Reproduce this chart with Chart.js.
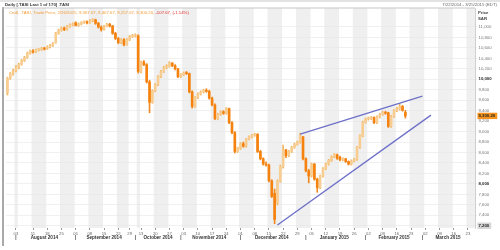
<!DOCTYPE html>
<html>
<head>
<meta charset="utf-8">
<script src="https://cdn.jsdelivr.net/npm/chart.js@4.4.1/dist/chart.umd.min.js"></script>
<style>
html, body { margin: 0; padding: 0; background: #fff; }
</style>
</head>
<body>
<canvas id="chart" width="500" height="250"></canvas>
<script>
// trading days of the exchange (Sun-Thu, Eid / national day closures left out)
var jul14 = [22, 23, 24];
var aug14 = [3, 4, 5, 6, 7, 10, 11, 12, 13, 14, 17, 18, 19, 20, 21, 24, 25, 26, 27, 28, 31];
var sep14 = [1, 2, 3, 4, 7, 8, 9, 10, 11, 14, 15, 16, 17, 18, 21, 22, 24, 25, 28, 29, 30];
var oct14 = [1, 12, 13, 14, 15, 16, 19, 20, 21, 22, 23, 26, 27, 28, 29, 30];
var nov14 = [2, 3, 4, 5, 6, 9, 10, 11, 12, 13, 16, 17, 18, 19, 20, 23, 24, 25, 26, 27, 30];
var dec14 = [1, 2, 3, 4, 7, 8, 9, 10, 11, 14, 15, 16, 17, 18, 21, 22, 23, 24, 25, 28, 29, 30, 31];
var jan15 = [1, 4, 5, 6, 7, 8, 11, 12, 13, 14, 15, 18, 19, 20, 21, 22, 25, 26, 27, 28, 29];
var feb15 = [1, 2, 3, 4, 5, 8, 9, 10, 11, 12, 15, 16, 17, 18, 19, 22, 23, 24, 25, 26];
var mar15 = [1, 2, 3, 4, 5, 8, 9, 10, 11, 12, 15, 16, 17, 18, 19, 22, 23, 24, 25];

// daily candles of .TASI
var open = [
  9740, 10020, 10110, 10160, 10230, 10290, 10360, 10420, 10500, 10540,
  10520, 10560, 10570, 10590, 10580, 10620, 10650, 10700, 10880, 10940,
  10980, 10950, 11010, 11040, 11080, 11030, 11060, 11090, 11100, 11080,
  11120, 11140, 11070, 11000, 10950, 11010, 11050, 11020, 10880, 10780,
  10700, 10760, 10660, 10760, 10820, 10830, 10830, 10150, 10330, 10280,
  9950, 9560, 9780, 9900, 10050, 10150, 10230, 10250, 10310, 10260,
  10200, 10050, 10090, 10120, 10110, 9760, 9480, 9650, 9720, 9760,
  9790, 9770, 9640, 9510, 9250, 9330, 9380, 9350, 9440, 9170,
  8980, 8620, 8680, 8770, 8720, 8860, 8900, 8930, 8950, 8620,
  8480, 8380, 8360, 8060, 7820, 7640, 8050, 8330, 8650, 8540,
  8620, 8700, 8760, 8800, 8900, 8480, 8250, 8150, 8380, 8090,
  7930, 8150, 8290, 8380, 8450, 8520, 8560, 8510, 8460, 8480,
  8430, 8380, 8440, 8470, 8700, 8920, 9180, 9240, 9250, 9270,
  9170, 9280, 9330, 9370, 9360, 9100, 9290, 9400, 9430, 9480,
  9367.67
];
var high = [
  10040, 10130, 10190, 10260, 10310, 10380, 10440, 10520, 10560, 10570,
  10580, 10590, 10610, 10610, 10640, 10670, 10700, 10900, 10960, 11000,
  11000, 11030, 11060, 11080, 11100, 11080, 11100, 11120, 11120, 11140,
  11160, 11150, 11090, 11020, 11030, 11070, 11070, 11030, 10900, 10800,
  10780, 10780, 10780, 10840, 10860, 10870, 10850, 10350, 10360, 10300,
  9980, 9800, 9920, 10070, 10170, 10250, 10280, 10340, 10320, 10280,
  10210, 10110, 10140, 10150, 10120, 9780, 9670, 9740, 9780, 9810,
  9820, 9790, 9660, 9530, 9350, 9400, 9400, 9460, 9450, 9190,
  9000, 8700, 8790, 8800, 8870, 8920, 8950, 8970, 8960, 8640,
  8500, 8420, 8380, 8080, 7900, 8080, 8360, 8740, 8660, 8640,
  8720, 8780, 8820, 8970, 8910, 8500, 8280, 8400, 8390, 8110,
  8170, 8310, 8400, 8470, 8540, 8580, 8570, 8530, 8500, 8490,
  8440, 8460, 8490, 8720, 8940, 9200, 9260, 9280, 9290, 9280,
  9300, 9350, 9390, 9390, 9370, 9310, 9420, 9470, 9530, 9500,
  9407.67
];
var low = [
  9700, 10000, 10080, 10140, 10200, 10270, 10340, 10400, 10480, 10500,
  10510, 10540, 10550, 10560, 10570, 10600, 10630, 10690, 10860, 10920,
  10930, 10940, 10990, 11020, 11020, 11010, 11040, 11070, 11060, 11070,
  11100, 11050, 10980, 10920, 10940, 11000, 11000, 10860, 10760, 10680,
  10680, 10640, 10650, 10740, 10800, 10810, 10120, 10120, 10260, 9930,
  9360, 9540, 9760, 9880, 10030, 10130, 10200, 10230, 10240, 10180,
  10030, 10030, 10070, 10090, 9740, 9450, 9460, 9630, 9700, 9740,
  9750, 9620, 9490, 9230, 9230, 9310, 9330, 9330, 9150, 8960,
  8590, 8600, 8660, 8700, 8700, 8840, 8880, 8910, 8600, 8460,
  8360, 8340, 8040, 7740, 7240, 7600, 8030, 8300, 8500, 8520,
  8600, 8680, 8740, 8780, 8460, 8230, 8020, 8130, 8070, 7840,
  7910, 8130, 8270, 8360, 8430, 8500, 8470, 8440, 8440, 8410,
  8360, 8360, 8420, 8450, 8680, 8900, 9160, 9220, 9230, 9150,
  9150, 9260, 9310, 9330, 9080, 9080, 9270, 9380, 9410, 9390,
  9257.67
];
var close = [
  10020, 10110, 10160, 10230, 10290, 10360, 10420, 10500, 10540, 10520,
  10560, 10570, 10590, 10580, 10620, 10650, 10690, 10880, 10940, 10980,
  10950, 11010, 11040, 11060, 11030, 11060, 11090, 11100, 11080, 11120,
  11140, 11070, 11000, 10950, 11010, 11050, 11020, 10880, 10780, 10700,
  10760, 10660, 10760, 10820, 10830, 10850, 10150, 10330, 10280, 9950,
  9560, 9780, 9900, 10050, 10150, 10230, 10250, 10310, 10260, 10200,
  10050, 10090, 10120, 10110, 9760, 9480, 9650, 9720, 9760, 9790,
  9770, 9640, 9510, 9250, 9330, 9380, 9350, 9440, 9170, 8980,
  8620, 8680, 8770, 8720, 8860, 8900, 8930, 8950, 8620, 8480,
  8380, 8360, 8060, 7760, 7320, 8050, 8330, 8650, 8540, 8620,
  8700, 8760, 8800, 8920, 8480, 8250, 8150, 8380, 8090, 7930,
  8150, 8290, 8380, 8450, 8520, 8560, 8490, 8460, 8480, 8430,
  8380, 8440, 8470, 8700, 8920, 9180, 9240, 9250, 9270, 9170,
  9280, 9330, 9370, 9350, 9100, 9290, 9400, 9450, 9480, 9407.87,
  9300.20
];

// hand drawn trend lines (wedge)
var upperLine = [{ x: '2014-12-30', y: 8950 }, { x: '2015-03-01', y: 9680 }];
var lowerLine = [{ x: '2014-12-18', y: 7215 }, { x: '2015-03-04', y: 9315 }];

// axis labels
var dayTicks = ['2014-08-03', '2014-08-11', '2014-08-18', '2014-08-25', '2014-09-01', '2014-09-08',
  '2014-09-15', '2014-09-22', '2014-09-29', '2014-10-13', '2014-10-20', '2014-10-27', '2014-11-03',
  '2014-11-10', '2014-11-17', '2014-11-24', '2014-12-01', '2014-12-08', '2014-12-15', '2014-12-22',
  '2014-12-29', '2015-01-05', '2015-01-12', '2015-01-19', '2015-01-26', '2015-02-02', '2015-02-09',
  '2015-02-16', '2015-02-23', '2015-03-02', '2015-03-09', '2015-03-16', '2015-03-23'];
var monthNames = ['', 'August 2014', 'September 2014', 'October 2014', 'November 2014',
  'December 2014', 'January 2015', 'February 2015', 'March 2015'];
var priceTicks = [7200, 7400, 7600, 7800, 8000, 8200, 8400, 8600, 8800, 9000, 9200, 9400,
  9600, 9800, 10000, 10200, 10400, 10600, 10800, 11000];

var UP = '#f8cd91', DOWN = '#f5820f', WICK_UP = '#f3b45e', WICK_DOWN = '#f08a20';

// build the category axis
function pad(n) { return (n < 10 ? '0' : '') + n; }
var monthList = [['2014-07', jul14], ['2014-08', aug14], ['2014-09', sep14], ['2014-10', oct14],
  ['2014-11', nov14], ['2014-12', dec14], ['2015-01', jan15], ['2015-02', feb15], ['2015-03', mar15]];
var labels = [];
var monthStart = {}, monthMid = {};
monthList.forEach(function (m, k) {
  var first = labels.length;
  m[1].forEach(function (d) { labels.push(m[0] + '-' + pad(d)); });
  var last = labels.length - 1;
  if (k > 0) {
    monthStart[first] = '|';
    monthMid[Math.ceil((first + last) / 2)] = monthNames[k];
  }
});

var bodies = labels.map(function (l, i) { return i < close.length ? [open[i], close[i]] : null; });
var wicks = labels.map(function (l, i) { return i < close.length ? [low[i], high[i]] : null; });
var lastClose = close[close.length - 1];

function isDown(i) { return close[i] < open[i]; }
function tickVal(c) { return c && c.tick ? c.tick.value : null; }
function strong(v) { return v === lastClose || v === 10000 || v === 8000 || v === 7200; }

// alternate weeks shaded (Mon-Sun)
var refMonday = Date.UTC(2014, 7, 11);
function greyWeek(label) {
  var p = label.split('-');
  var t = Date.UTC(+p[0], +p[1] - 1, +p[2]);
  return Math.floor((t - refMonday) / 604800000) % 2 === 0;
}

var weekBands = {
  id: 'weekBands',
  beforeDraw: function (chart) {
    var ctx = chart.ctx, area = chart.chartArea, x = chart.scales.x;
    var w = (area.right - area.left) / labels.length;
    ctx.save();
    ctx.fillStyle = '#fff';
    ctx.fillRect(0, 0, chart.width, chart.height);
    ctx.fillStyle = '#efefef';
    labels.forEach(function (l, i) {
      if (greyWeek(l)) {
        var px = x.getPixelForValue(i);
        ctx.fillRect(px - w / 2, area.top, w + 0.4, area.bottom - area.top);
      }
    });
    ctx.restore();
  }
};

var frameText = {
  id: 'frameText',
  afterDraw: function (chart) {
    var ctx = chart.ctx, area = chart.chartArea;
    ctx.save();
    // frame
    ctx.fillStyle = '#a9a9a9';
    ctx.fillRect(2, 7, 2, 239);
    ctx.fillStyle = '#c8c8c8';
    ctx.fillRect(2, 7.5, area.right - 2, 1);
    ctx.fillRect(0, 0.5, 500, 1);
    ctx.textBaseline = 'middle';
    ctx.font = 'bold 4.3px "Liberation Sans", Arial, sans-serif';
    ctx.fillStyle = '#333';
    ctx.textAlign = 'left';
    ctx.fillText('Daily [.TASI Last 1 of 170] .TASI', 5, 4.5);
    ctx.font = '4.3px "Liberation Sans", Arial, sans-serif';
    ctx.fillStyle = '#666';
    ctx.textAlign = 'right';
    ctx.fillText('7/22/2014 - 3/25/2015 (EDT)', 497, 4.5);
    ctx.textAlign = 'left';
    ctx.font = 'bold 4.3px "Liberation Sans", Arial, sans-serif';
    ctx.fillStyle = '#444';
    ctx.fillText('Price', 478, 12.5);
    ctx.fillText('SAR', 478, 19);
    // info line
    ctx.font = '4.3px "Liberation Sans", Arial, sans-serif';
    var info = 'Cndl, .TASI, Trade Price, 2/26/2015, 9,367.67, 9,407.67, 9,257.67, 9,300.20, ';
    ctx.fillStyle = '#f39c34';
    ctx.fillText(info, 9, 13);
    ctx.fillStyle = '#e0302a';
    ctx.fillText('-107.67, (-1.14%)', 9 + ctx.measureText(info).width, 13);
    ctx.restore();
  }
};

var fam = '"Liberation Sans", Arial, sans-serif';
Chart.defaults.font.family = fam;

new Chart(document.getElementById('chart'), {
  type: 'bar',
  data: {
    labels: labels,
    datasets: [
      { type: 'line', data: upperLine, borderColor: '#6d70c8', borderWidth: 1.3, pointRadius: 0 },
      { type: 'line', data: lowerLine, borderColor: '#6d70c8', borderWidth: 1.3, pointRadius: 0 },
      {
        data: bodies, grouped: false, barThickness: 2, minBarLength: 1,
        backgroundColor: function (c) { return isDown(c.dataIndex) ? DOWN : UP; }
      },
      {
        data: wicks, grouped: false, barThickness: 1,
        backgroundColor: function (c) { return isDown(c.dataIndex) ? WICK_DOWN : WICK_UP; }
      }
    ]
  },
  options: {
    responsive: false,
    animation: false,
    devicePixelRatio: 1,
    layout: { padding: { left: 6, right: 0, top: 8, bottom: 4 } },
    plugins: { legend: { display: false }, tooltip: { enabled: false } },
    scales: {
      x: {
        offset: true,
        grid: {
          offset: false, drawOnChartArea: false, tickLength: 2,
          color: function (c) { return c.index !== undefined && dayTicks.indexOf(labels[c.index]) >= 0 ? '#9a9a9a' : 'rgba(0,0,0,0)'; }
        },
        border: { display: false },
        ticks: {
          autoSkip: false, maxRotation: 0, minRotation: 0, padding: 1,
          font: { size: 4.2 }, color: '#666',
          callback: function (v, i) { var l = labels[i]; return dayTicks.indexOf(l) >= 0 ? l.slice(8) : ''; }
        },
        afterFit: function (s) { s.height = 7; }
      },
      xm: {
        type: 'category', position: 'bottom', offset: true,
        grid: { display: false, drawTicks: false, tickLength: 0 }, border: { display: false },
        ticks: {
          autoSkip: false, maxRotation: 0, minRotation: 0, padding: 0,
          font: { size: 4.6, weight: 'bold' }, color: '#333',
          callback: function (v, i) { return monthStart[i] || monthMid[i] || ''; }
        },
        afterFit: function (s) { s.height = 11; }
      },
      y: {
        position: 'right', min: 7157, max: 11363,
        grid: {
          tickLength: 2, lineWidth: 0.6,
          color: function (c) { return tickVal(c) === lastClose ? 'rgba(0,0,0,0)' : '#e6e6e6'; }
        },
        border: { color: '#d0d0d0' },
        afterBuildTicks: function (s) {
          s.ticks = priceTicks.concat([lastClose]).map(function (v) { return { value: v }; });
        },
        ticks: {
          autoSkip: false, padding: 1.5,
          showLabelBackdrop: function (c) { var v = tickVal(c); return v === lastClose || v === 7200; },
          backdropPadding: { left: 1, right: 2, top: 0.6, bottom: 0.6 },
          backdropColor: function (c) { return tickVal(c) === lastClose ? '#f7941d' : '#d6d6d6'; },
          color: function (c) { return strong(tickVal(c)) ? '#222' : '#777'; },
          font: function (c) { return { size: 4.3, weight: strong(tickVal(c)) ? 'bold' : 'normal' }; },
          callback: function (v) {
            return v === lastClose ? v.toLocaleString('en-US', { minimumFractionDigits: 2 }) : v.toLocaleString('en-US');
          }
        },
        afterFit: function (s) { s.width = 25; }
      }
    }
  },
  plugins: [weekBands, frameText]
});
</script>
</body>
</html>
